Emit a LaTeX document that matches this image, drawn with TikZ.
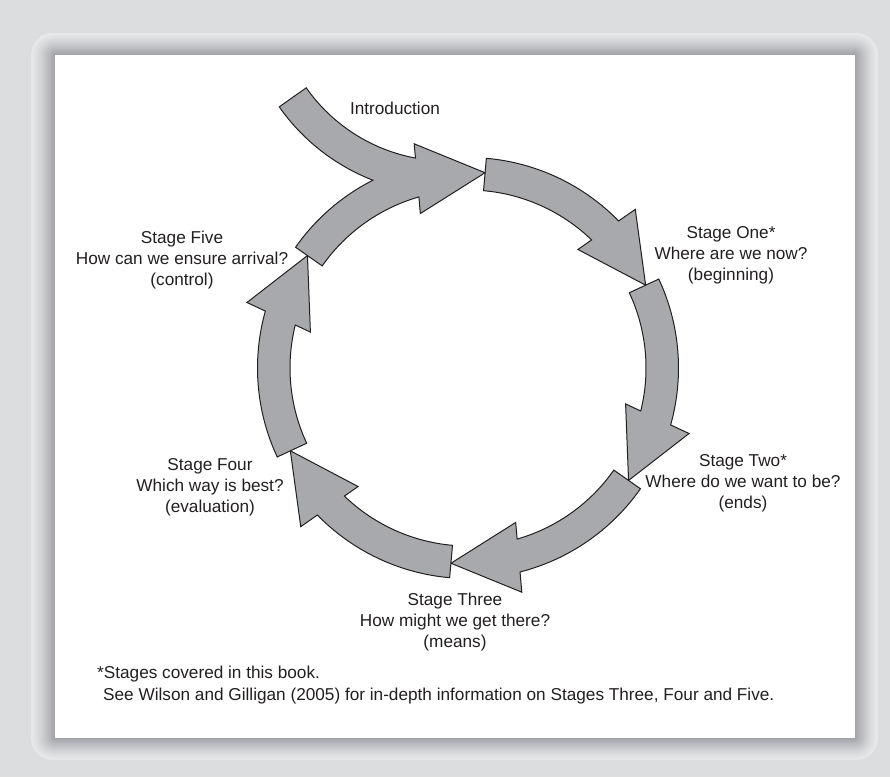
\documentclass[tikz,border=0pt]{standalone}
\usepackage{fontspec}
\setmainfont{Liberation Sans}
\usetikzlibrary{calc}

\definecolor{pageback}{HTML}{DCDDDF}
\definecolor{framelight}{HTML}{E7E8EA}
\definecolor{framedark}{HTML}{A0A1A5}
\definecolor{arrowfill}{HTML}{A7A9AC}
\definecolor{inkline}{HTML}{231F20}

% One curved block arrow of the cycle, tip at angle #1 (degrees) around (C),
% running clockwise over 60 degrees: 40 degrees of body, 20 degrees of head.
\newcommand\cyclearrow[1]{%
  \pgfmathsetmacro\arTail{#1+60}%
  \pgfmathsetmacro\arBase{#1+20}%
  \pgfmathsetmacro\arAxis{#1+10}%
  \pgfmathsetmacro\arOutN{#1+20-0.69}%
  \pgfmathsetmacro\arInN{#1+20+1.02}%
  \draw[blockarrow] ($(C)+(\arTail:210.5pt)$)
    arc[start angle=\arTail, end angle=\arOutN, radius=210.5pt]
    -- ($(C)+(\arBase:196pt)+(\arAxis:35pt)$)
    -- ($(C)+(#1:196pt)$)
    -- ($(C)+(\arBase:196pt)+(\arAxis:-35pt)$)
    -- ($(C)+(\arInN:178pt)$)
    arc[start angle=\arInN, end angle=\arTail, radius=178pt]
    -- cycle;}

\begin{document}
\begin{tikzpicture}[x=1pt, y=1pt,
  blockarrow/.style={fill=arrowfill, draw=inkline, line width=1pt, line join=miter},
  stagetext/.style={font=\fontsize{17.2}{21}\selectfont, text=inkline, align=center, inner sep=0pt}]
\useasboundingbox (0,0) rectangle (890,777);

% page and bevelled frame
\fill[pageback] (0,0) rectangle (890,777);
\foreach \i in {0,...,22}{
  \pgfmathsetmacro\frmix{100*(\i/22)^1.3}
  \pgfmathsetmacro\frrad{max(22-\i,0.01)}
  \fill[framedark!\frmix!framelight, rounded corners=\frrad pt]
    (31+\i*24/22, 17+\i) rectangle (878-\i*23/22, 744-\i);
}
\fill[white] (55,39) rectangle (855,722);

% centres of the cycle ring and of the entry band
\coordinate (C) at (468,409);
\coordinate (I) at (447,788);

% stage arrows
\cyclearrow{25}
\cyclearrow{-35}
\cyclearrow{-95}
\cyclearrow{-155}
\cyclearrow{145}

% last stage arrow merged with the entry band
\draw[blockarrow] ($(C)+(145:210.5pt)$)
  arc[start angle=145, end angle=116.86, radius=210.5pt]
  arc[start angle=248.8, end angle=215.07, radius=205pt]
  -- ($(I)+(215.07:172pt)$)
  arc[start angle=215.07, end angle=259.44, radius=172pt]
  -- ($(C)+(105:196pt)+(95:35pt)$)
  -- ($(C)+(85:196pt)$)
  -- ($(C)+(105:196pt)+(95:-35pt)$)
  -- ($(C)+(106.02:178pt)$)
  arc[start angle=106.02, end angle=145, radius=178pt]
  -- cycle;

% labels
\node[stagetext] (intro) at (395,669) {Introduction};
\node[stagetext] (stageone) at (731,522) {Stage One*\\Where are we now?\\(beginning)};
\node[stagetext] (stagetwo) at (743,294) {Stage Two*\\Where do we want to be?\\(ends)};
\node[stagetext] (stagethree) at (455,155) {Stage Three\\How might we get there?\\(means)};
\node[stagetext] (stagefour) at (210,290) {Stage Four\\Which way is best?\\(evaluation)};
\node[stagetext] (stagefive) at (182,517) {Stage Five\\How can we ensure arrival?\\(control)};

% footnote
\node[stagetext, anchor=base west] (noteone) at (97,99) {*Stages covered in this book.};
\node[stagetext, anchor=base west] (notetwo) at (103,76.5) {See Wilson and Gilligan (2005) for in-depth information on Stages Three, Four and Five.};
\end{tikzpicture}
\end{document}
